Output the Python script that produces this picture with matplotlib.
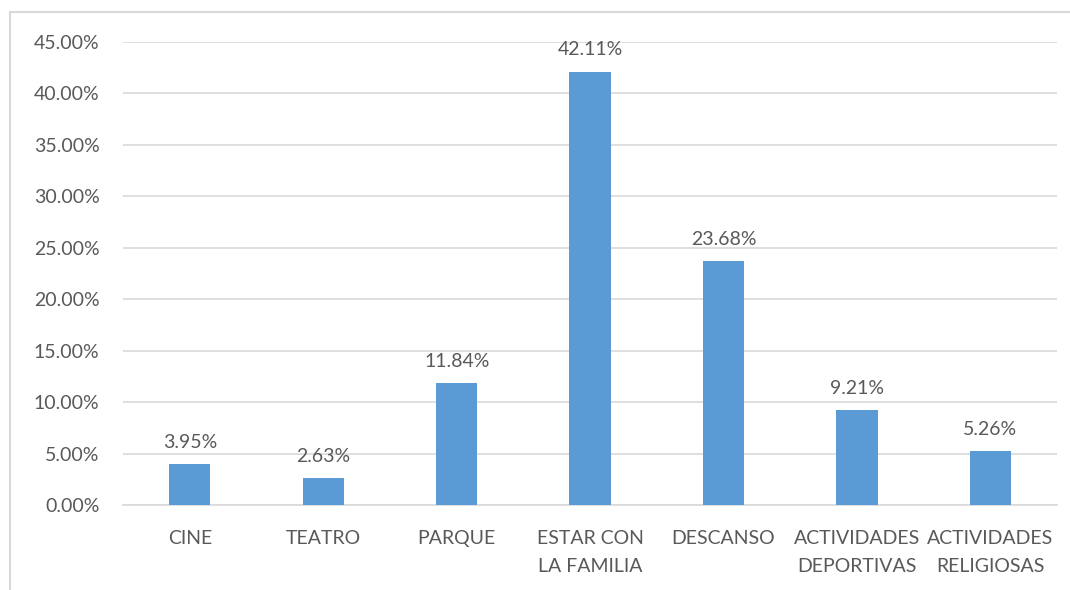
import matplotlib.pyplot as plt
from matplotlib.patches import Rectangle
from matplotlib.ticker import FuncFormatter

# Data
categories = ['CINE', 'TEATRO', 'PARQUE', 'ESTAR CON\nLA FAMILIA', 'DESCANSO',
              'ACTIVIDADES\nDEPORTIVAS', 'ACTIVIDADES\nRELIGIOSAS']
values = [3.95, 2.63, 11.84, 42.11, 23.68, 9.21, 5.26]
yticks = [0, 5, 10, 15, 20, 25, 30, 35, 40, 45]

plt.rcParams['font.family'] = ['Lato', 'DejaVu Sans']
text_color = '#595959'

fig = plt.figure(figsize=(10.7, 5.9), dpi=100)
ax = fig.add_axes([0.115, 0.144, 0.873, 0.785])

x = range(len(categories))
ax.bar(x, values, width=0.31, color='#5B9BD5', zorder=3)
for i, v in zip(x, values):
    ax.text(i, v + 1.3, f'{v:.2f}%', ha='center', va='bottom',
            fontsize=14, color=text_color)

ax.set_xlim(-0.5, len(categories) - 0.5)
ax.set_ylim(0, 45)
ax.set_yticks(yticks)
ax.yaxis.set_major_formatter(FuncFormatter(lambda v, p: f'{v:.2f}%'))
ax.set_xticks(list(x))
ax.set_xticklabels(categories, fontsize=14, color=text_color, linespacing=1.75)
ax.tick_params(axis='y', labelsize=14, labelcolor=text_color, length=0, pad=17)
ax.tick_params(axis='x', length=0, pad=18)
ax.grid(axis='y', color='#D9D9D9', linewidth=1.2, zorder=0)
for s in ['top', 'right', 'left']:
    ax.spines[s].set_visible(False)
ax.spines['bottom'].set_color('#D9D9D9')
ax.spines['bottom'].set_linewidth(1.2)

# outer chart frame
fig.patches.append(Rectangle((10 / 1070, -0.1), 1.2, 1 - 12 / 590 + 0.1,
                             transform=fig.transFigure, fill=False,
                             edgecolor='#D9D9D9', linewidth=1.5))

fig.savefig('out.png', dpi=100)
